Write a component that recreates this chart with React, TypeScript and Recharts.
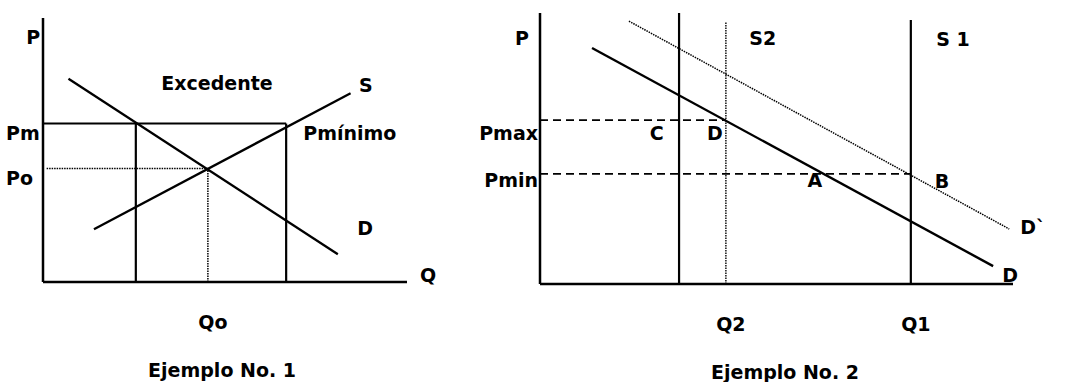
import { LineChart, Line, XAxis, YAxis, ReferenceLine, ReferenceDot } from "recharts";

const FONT = "'DejaVu Sans', sans-serif";
const INK = "#000";

// Ejemplo No. 1 – precio mínimo (escala 0..10 en ambos ejes)
const demand1 = [
  { q: 0.7, p: 7.7 },
  { q: 8.1, p: 1.05 },
];
const supply1 = [
  { q: 1.4, p: 2.0 },
  { q: 8.45, p: 7.15 },
];
const priceTicks1 = [4.3, 6.0];
const priceNames1 = ["Po", "Pm"];
const qtyTicks1 = [4.53];
const qtyNames1 = ["Qo"];
const qDemanded1 = 2.55;
const qSupplied1 = 6.68;
const notes1 = [
  { text: "P", q: -0.27, p: 9.28 },
  { text: "Excedente", q: 4.78, p: 7.54 },
  { text: "S", q: 8.87, p: 7.46 },
  { text: "Pmínimo", q: 8.43, p: 5.64 },
  { text: "D", q: 8.85, p: 2.05 },
  { text: "Q", q: 10.58, p: 0.27 },
  { text: "Ejemplo No. 1", q: 4.92, p: -3.33 },
];

// Ejemplo No. 2 – oferta fija, precios máximo y mínimo
const demand2 = [
  { q: 1.1, p: 8.71 },
  { q: 9.58, p: 0.66 },
];
const demandShift2 = [
  { q: 1.88, p: 9.7 },
  { q: 9.92, p: 2.03 },
];
const priceTicks2 = [4.06, 6.05];
const priceNames2 = ["Pmin", "Pmax"];
const qtyTicks2 = [3.93, 7.84];
const qtyNames2 = ["Q2", "Q1"];
const supplyS2 = 2.94;
const topS2 = 10;
const topQ2 = 9.67;
const topS1 = 9.74;
const notes2 = [
  { text: "P", q: -0.38, p: 9.08 },
  { text: "S2", q: 4.71, p: 9.08 },
  { text: "S 1", q: 8.73, p: 9.04 },
  { text: "C", q: 2.47, p: 5.57 },
  { text: "D", q: 3.7, p: 5.57 },
  { text: "A", q: 5.81, p: 3.84 },
  { text: "B", q: 8.5, p: 3.8 },
  { text: "D`", q: 10.42, p: 2.1 },
  { text: "D", q: 9.94, p: 0.33 },
  { text: "Ejemplo No. 2", q: 5.18, p: -3.25 },
];

const textStyle = { fontFamily: FONT, fontWeight: 700, fontSize: 19, fill: INK };
const axisLine = { stroke: INK, strokeWidth: 2.5 };

const qtyTick = (ticks: number[], names: string[]) => (props: any) => {
  const i = ticks.indexOf(props.payload.value);
  return (
    <text x={props.x + 5} y={props.y + 40} textAnchor="middle" dominantBaseline="central" {...textStyle}>
      {names[i >= 0 ? i : props.index]}
    </text>
  );
};

const priceTick =
  (ticks: number[], names: string[], anchor: "start" | "end", dx: number, dys: number[]) => (props: any) => {
    let i = ticks.indexOf(props.payload.value);
    if (i < 0) i = props.index;
    return (
      <text x={props.x + dx} y={props.y + dys[i]} textAnchor={anchor} dominantBaseline="central" {...textStyle}>
        {names[i]}
      </text>
    );
  };

const notesLayer = (notes: { text: string; q: number; p: number }[]) =>
  notes.map((n, i) => (
    <ReferenceDot
      key={`n${i}`}
      x={n.q}
      y={n.p}
      r={0}
      fill="none"
      stroke="none"
      ifOverflow="visible"
      label={{ value: n.text, position: "center", ...textStyle }}
    />
  ));

function Example1() {
  const [po, pm] = priceTicks1;
  const qo = qtyTicks1[0];
  return (
    <LineChart width={480} height={382} margin={{ top: 18, right: 73, bottom: 0, left: 0 }}>
      <XAxis
        type="number"
        dataKey="q"
        domain={[0, 10]}
        allowDataOverflow
        ticks={qtyTicks1}
        interval={0}
        tickLine={false}
        tickSize={0}
        tickMargin={0}
        height={100}
        axisLine={axisLine}
        tick={qtyTick(qtyTicks1, qtyNames1)}
      />
      <YAxis
        type="number"
        domain={[0, 10]}
        allowDataOverflow
        ticks={priceTicks1}
        interval={0}
        tickLine={false}
        tickSize={0}
        tickMargin={0}
        width={43}
        axisLine={axisLine}
        tick={priceTick(priceTicks1, priceNames1, "start", -37, [10, 9])}
      />
      <ReferenceLine segment={[{ x: 0, y: pm }, { x: qSupplied1, y: pm }]} stroke={INK} strokeWidth={2} />
      <ReferenceLine segment={[{ x: qDemanded1, y: 0 }, { x: qDemanded1, y: pm }]} stroke={INK} strokeWidth={2.2} />
      <ReferenceLine segment={[{ x: qSupplied1, y: 0 }, { x: qSupplied1, y: pm }]} stroke={INK} strokeWidth={2.2} />
      <ReferenceLine
        segment={[{ x: 0.1, y: po }, { x: qo, y: po }]}
        stroke={INK}
        strokeWidth={1.5}
        strokeDasharray="1.5 1"
      />
      <ReferenceLine
        segment={[{ x: qo, y: 0 }, { x: qo, y: po }]}
        stroke={INK}
        strokeWidth={1.5}
        strokeDasharray="1.5 1"
      />
      <Line data={demand1} dataKey="p" stroke={INK} strokeWidth={2.3} dot={false} isAnimationActive={false} />
      <Line data={supply1} dataKey="p" stroke={INK} strokeWidth={2.3} dot={false} isAnimationActive={false} />
      {notesLayer(notes1)}
    </LineChart>
  );
}

function Example2() {
  const [pmin, pmax] = priceTicks2;
  const [q2, q1] = qtyTicks2;
  return (
    <LineChart width={591} height={382} margin={{ top: 13, right: 58, bottom: 0, left: 0 }}>
      <XAxis
        type="number"
        dataKey="q"
        domain={[0, 10]}
        allowDataOverflow
        ticks={qtyTicks2}
        interval={0}
        tickLine={false}
        tickSize={0}
        tickMargin={0}
        height={98}
        axisLine={axisLine}
        tick={qtyTick(qtyTicks2, qtyNames2)}
      />
      <YAxis
        type="number"
        domain={[0, 10]}
        allowDataOverflow
        ticks={priceTicks2}
        interval={0}
        tickLine={false}
        tickSize={0}
        tickMargin={0}
        width={60}
        axisLine={axisLine}
        tick={priceTick(priceTicks2, priceNames2, "end", -2, [6, 13])}
      />
      <ReferenceLine segment={[{ x: supplyS2, y: 0 }, { x: supplyS2, y: topS2 }]} stroke={INK} strokeWidth={2.2} />
      <ReferenceLine
        segment={[{ x: q2, y: 0 }, { x: q2, y: topQ2 }]}
        stroke={INK}
        strokeWidth={1.4}
        strokeDasharray="1.5 1"
      />
      <ReferenceLine segment={[{ x: q1, y: 0 }, { x: q1, y: topS1 }]} stroke={INK} strokeWidth={2.2} />
      <ReferenceLine
        segment={[{ x: 0, y: pmax }, { x: q2, y: pmax }]}
        stroke={INK}
        strokeWidth={1.8}
        strokeDasharray="8 5"
      />
      <ReferenceLine
        segment={[{ x: 0, y: pmin }, { x: q1, y: pmin }]}
        stroke={INK}
        strokeWidth={1.8}
        strokeDasharray="8 5"
      />
      <Line
        data={demandShift2}
        dataKey="p"
        stroke={INK}
        strokeWidth={1.5}
        strokeDasharray="1.5 1"
        dot={false}
        isAnimationActive={false}
      />
      <Line data={demand2} dataKey="p" stroke={INK} strokeWidth={2.4} dot={false} isAnimationActive={false} />
      {notesLayer(notes2)}
    </LineChart>
  );
}

export default function App() {
  return (
    <div style={{ position: "absolute", left: 0, top: 0, width: 1071, height: 382, background: "#fff" }}>
      <div style={{ position: "absolute", left: 0, top: 0 }}>
        <Example1 />
      </div>
      <div style={{ position: "absolute", left: 480, top: 0 }}>
        <Example2 />
      </div>
    </div>
  );
}
